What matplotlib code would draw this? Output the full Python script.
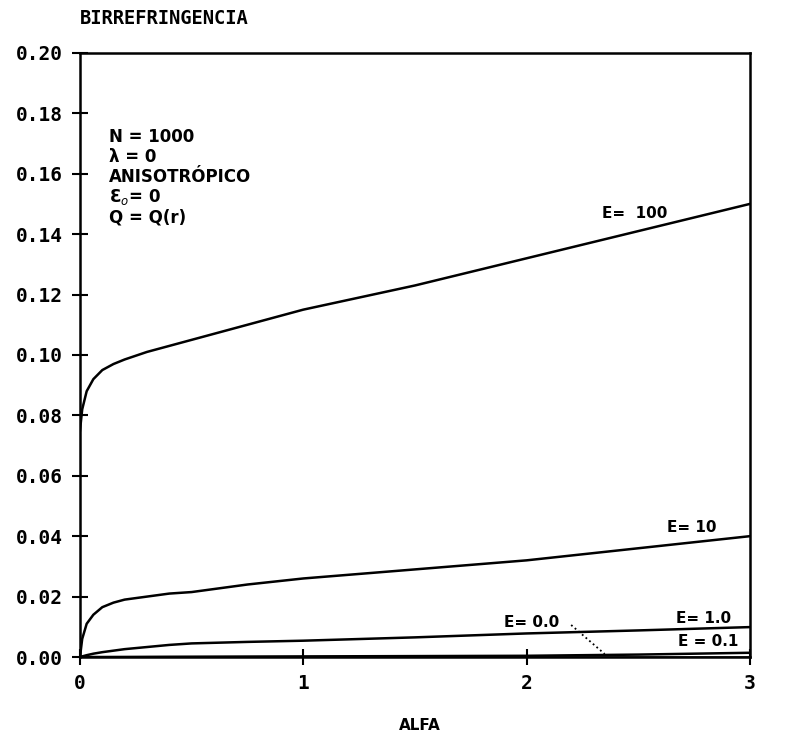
import numpy as np
import matplotlib
matplotlib.use("Agg")
import matplotlib.pyplot as plt

# curves
alfa = [0, 0.01, 0.03, 0.06, 0.1, 0.15, 0.2, 0.3, 0.4, 0.5, 0.75, 1.0, 1.5, 2.0, 2.5, 3.0]
e100 = [0.075, 0.082, 0.088, 0.092, 0.095, 0.097, 0.0985, 0.101, 0.103, 0.105, 0.110, 0.115, 0.123, 0.132, 0.141, 0.150]
e10 = [0, 0.006, 0.011, 0.014, 0.0165, 0.018, 0.019, 0.020, 0.021, 0.0215, 0.024, 0.026, 0.029, 0.032, 0.036, 0.040]
e1 = [0, 0.0002, 0.0006, 0.0011, 0.0016, 0.0021, 0.0026, 0.0033, 0.0040, 0.0045, 0.0050, 0.0054, 0.0065, 0.0078, 0.0088, 0.0099]
e01 = [0, 0, 0, 0, 0, 0.00001, 0.00002, 0.00005, 0.00008, 0.0001, 0.00015, 0.0002, 0.0003, 0.0004, 0.0008, 0.0014]
e00 = [0] * len(alfa)

yticks = [0.00, 0.02, 0.04, 0.06, 0.08, 0.10, 0.12, 0.14, 0.16, 0.18, 0.20]
xticks = [0, 1, 2, 3]

fig = plt.figure(figsize=(8.07, 7.34), dpi=100)
ax = fig.add_axes([0.0991, 0.1049, 0.830, 0.823])

for y in [e100, e10, e1, e01, e00]:
    ax.plot(alfa, y, color="black", lw=1.8)

ax.set_xlim(0, 3)
ax.set_ylim(0, 0.2)
ax.set_xticks(xticks)
ax.set_xticklabels([str(t) for t in xticks])
ax.set_yticks(yticks)
ax.set_yticklabels(["%.2f" % t for t in yticks])
ax.tick_params(direction="inout", length=12, width=1.5, pad=6)
for lab in ax.get_xticklabels() + ax.get_yticklabels():
    lab.set_family("DejaVu Sans Mono")
    lab.set_fontweight("bold")
    lab.set_fontsize(14)
for s in ax.spines.values():
    s.set_linewidth(1.8)

fig.text(0.099, 0.975, "BIRREFRINGENCIA", family="DejaVu Sans Mono",
         fontweight="bold", fontsize=13.5, va="center", ha="left")
fig.text(0.52, 0.012, "ALFA", family="DejaVu Sans", fontweight="bold",
         fontsize=11, ha="center", va="center")

info = ["N = 1000", "\u03bb = 0", "ANISOTR\u00d3PICO", "\u0190$_o$= 0", "Q = Q(r)"]
for i, s in enumerate(info):
    ax.text(0.13, 0.172 - i * 0.0066, s, family="DejaVu Sans", fontweight="bold",
            fontsize=12, va="center", ha="left")

lab_kw = dict(family="DejaVu Sans", fontweight="bold", fontsize=11, va="center", ha="left")
ax.text(2.34, 0.147, "E=  100", **lab_kw)
ax.text(2.63, 0.043, "E= 10", **lab_kw)
ax.text(2.67, 0.0129, "E= 1.0", **lab_kw)
ax.text(2.68, 0.0050, "E = 0.1", **lab_kw)
ax.text(1.90, 0.0113, "E= 0.0", **lab_kw)
ax.plot([2.20, 2.35], [0.0106, 0.001], color="black", lw=1.3, ls=":")

fig.savefig("out.png", dpi=100)
